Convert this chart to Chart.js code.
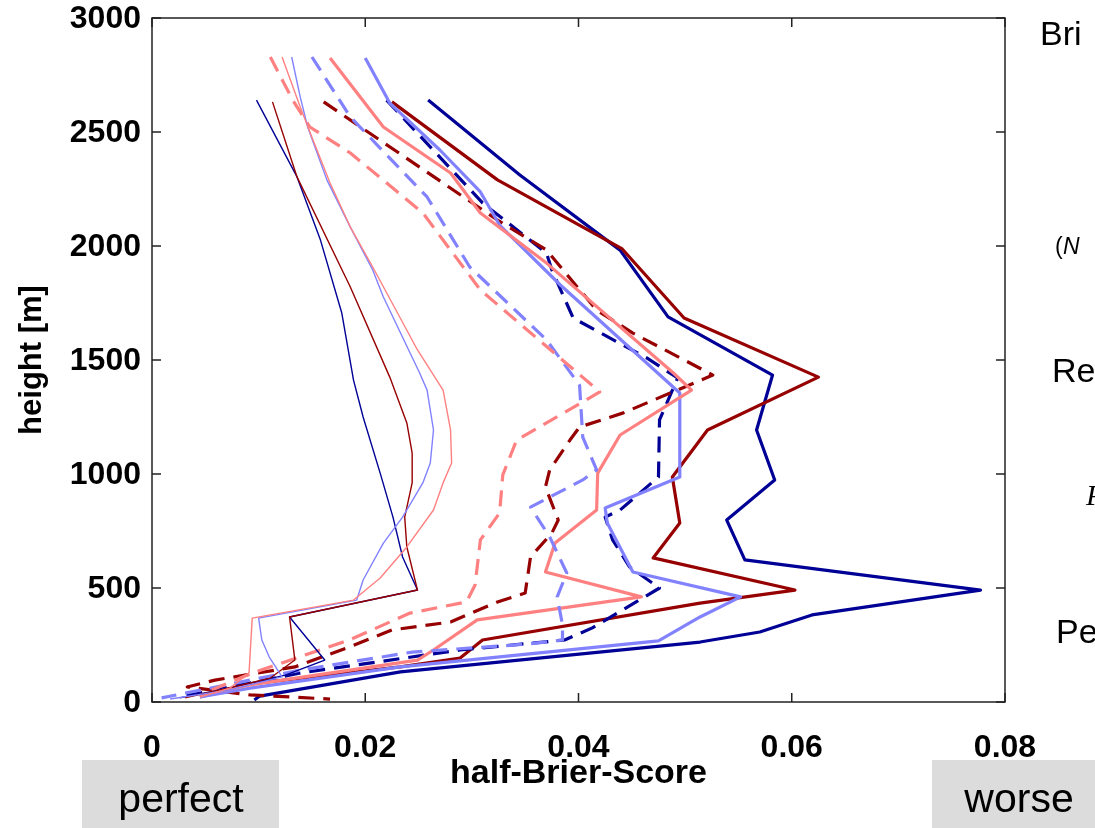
<!DOCTYPE html>
<html>
<head>
<meta charset="utf-8">
<script src="https://cdn.jsdelivr.net/npm/chart.js@4/dist/chart.umd.min.js"></script>
<style>
  body { margin: 0; background: #fff; }
  canvas { display: block; }
</style>
</head>
<body>
<canvas id="brier" width="1095" height="828"></canvas>
<script>
// tick labels
const xTicks = [0, 0.02, 0.04, 0.06, 0.08];
const xTickLabels = ['0', '0.02', '0.04', '0.06', '0.08'];
const yTicks = [0, 500, 1000, 1500, 2000, 2500, 3000];
const yTickLabels = ['0', '500', '1000', '1500', '2000', '2500', '3000'];

// dark blue, thick solid
const dbSolidScore = [0.0259, 0.0345, 0.0439, 0.0484, 0.0582, 0.0567, 0.0584, 0.0539, 0.0556, 0.0777, 0.0619, 0.0570, 0.0514, 0.0233, 0.0101, 0.0096];
const dbSolidHeight = [2640, 2311, 1982, 1689, 1434, 1193, 974, 798, 623, 491, 382, 307, 263, 132, 26, 9];
// dark red, thick solid
const drSolidScore = [0.0225, 0.0324, 0.0441, 0.0499, 0.0625, 0.0521, 0.0488, 0.0495, 0.0470, 0.0603, 0.0514, 0.0310, 0.0289, 0.0233, 0.0092, 0.0045];
const drSolidHeight = [2632, 2290, 1987, 1684, 1425, 1193, 987, 785, 632, 491, 434, 272, 193, 154, 79, 22];
// dark blue, dashed
const dbDashScore = [0.0220, 0.0310, 0.0370, 0.0375, 0.0395, 0.0464, 0.0493, 0.0476, 0.0475, 0.0439, 0.0425, 0.0432, 0.0448, 0.0476, 0.0413, 0.0387, 0.0289, 0.0139, 0.0026];
const dbDashHeight = [2640, 2189, 1969, 1895, 1684, 1509, 1421, 1237, 987, 842, 811, 711, 592, 500, 325, 272, 228, 127, 22];
// dark red, dashed
const drDashScore = [0.0161, 0.0324, 0.0370, 0.0417, 0.0451, 0.0526, 0.0486, 0.0442, 0.0401, 0.0392, 0.0373, 0.0369, 0.0381, 0.0375, 0.0355, 0.0350, 0.0324, 0.0280, 0.0225, 0.0185, 0.0134, 0.0059, 0.0033, 0.0092, 0.0167];
const drDashHeight = [2632, 2114, 1982, 1719, 1618, 1434, 1355, 1268, 1206, 1149, 1018, 943, 798, 741, 636, 478, 439, 351, 316, 241, 154, 96, 66, 31, 13];
// light blue, thick solid
const lbSolidScore = [0.0200, 0.0223, 0.0270, 0.0308, 0.0326, 0.0383, 0.0495, 0.0495, 0.0425, 0.0427, 0.0451, 0.0552, 0.0514, 0.0475, 0.0233, 0.0092, 0.0045];
const lbSolidHeight = [2825, 2627, 2421, 2237, 2092, 1829, 1355, 987, 851, 785, 570, 461, 373, 268, 154, 61, 22];
// light red, thick solid
const lrSolidScore = [0.0167, 0.0217, 0.0280, 0.0308, 0.0370, 0.0489, 0.0506, 0.0439, 0.0418, 0.0417, 0.0378, 0.0369, 0.0459, 0.0305, 0.0264, 0.0249, 0.0092, 0.0045];
const lrSolidHeight = [2825, 2522, 2320, 2145, 1925, 1443, 1368, 1171, 1004, 842, 697, 570, 461, 360, 228, 184, 75, 31];
// light blue, dashed
const lbDashScore = [0.0150, 0.0186, 0.0258, 0.0298, 0.0370, 0.0401, 0.0404, 0.0417, 0.0404, 0.0355, 0.0373, 0.0389, 0.0380, 0.0385, 0.0385, 0.0352, 0.0244, 0.0139, 0.0009];
const lbDashHeight = [2829, 2566, 2215, 1908, 1588, 1390, 1162, 1018, 974, 855, 724, 566, 461, 338, 272, 254, 219, 140, 18];
// light red, dashed
const lrDashScore = [0.0111, 0.0132, 0.0148, 0.0186, 0.0254, 0.0308, 0.0420, 0.0370, 0.0342, 0.0329, 0.0326, 0.0308, 0.0303, 0.0295, 0.0242, 0.0185, 0.0094, 0.0056];
const lrDashHeight = [2829, 2640, 2522, 2408, 2145, 1807, 1360, 1224, 1149, 996, 829, 711, 513, 439, 390, 272, 127, 53];
// dark blue, thin
const dbThinScore = [0.0098, 0.0136, 0.0158, 0.0178, 0.0189, 0.0198, 0.0214, 0.0226, 0.0235, 0.0249, 0.0129, 0.0162, 0.0125, 0.0064, 0.0026];
const dbThinHeight = [2640, 2303, 2026, 1706, 1412, 1250, 1004, 811, 636, 491, 373, 184, 118, 53, 18];
// dark red, thin
const drThinScore = [0.0113, 0.0136, 0.0186, 0.0223, 0.0239, 0.0244, 0.0244, 0.0237, 0.0239, 0.0249, 0.0129, 0.0134, 0.0111, 0.0064, 0.0031];
const drThinHeight = [2632, 2303, 1820, 1425, 1224, 1092, 961, 811, 680, 491, 373, 184, 105, 53, 18];
// light blue, thin
const lbThinScore = [0.0131, 0.0139, 0.0146, 0.0164, 0.0186, 0.0207, 0.0217, 0.0251, 0.0258, 0.0264, 0.0261, 0.0254, 0.0235, 0.0217, 0.0198, 0.0192, 0.0100, 0.0103, 0.0110, 0.0122, 0.0073, 0.0017];
const lbThinHeight = [2829, 2654, 2522, 2290, 2083, 1895, 1776, 1443, 1368, 1193, 1048, 961, 811, 697, 535, 447, 368, 272, 197, 110, 53, 13];
// light red, thin
const lrThinScore = [0.0122, 0.0139, 0.0151, 0.0167, 0.0186, 0.0207, 0.0249, 0.0273, 0.0280, 0.0281, 0.0273, 0.0264, 0.0239, 0.0214, 0.0189, 0.0094, 0.0091, 0.0073, 0.0045];
const lrThinHeight = [2829, 2610, 2465, 2276, 2083, 1908, 1544, 1368, 1193, 1048, 961, 842, 680, 544, 447, 368, 127, 61, 22];

const DARK_BLUE = 'rgb(0, 0, 150)';
const DARK_RED = 'rgb(150, 0, 0)';
const LIGHT_BLUE = 'rgb(130, 130, 255)';
const LIGHT_RED = 'rgb(255, 128, 128)';

// helper functions
function toPoints(scores, heights) {
    let points = [];
    for (let i = 0; i < scores.length; i++) {
        points.push({ x: scores[i], y: heights[i] });
    }
    return points;
}

function profile(scores, heights, color, style) {
    return {
        data: toPoints(scores, heights),
        showLine: true,
        borderColor: color,
        backgroundColor: color,
        borderWidth: style === 'thin' ? 1.4 : 3.2,
        borderDash: style === 'dash' ? [16, 9] : [],
        pointRadius: 0,
        tension: 0,
        borderJoinStyle: 'round',
    };
}

const frame = {
    id: 'frame',
    afterDatasetsDraw(chart) {
        const { ctx, chartArea: a, scales } = chart;
        ctx.save();
        ctx.strokeStyle = '#222';
        ctx.lineWidth = 1.5;
        ctx.strokeRect(a.left, a.top, a.right - a.left, a.bottom - a.top);

        // inward ticks on all four sides
        ctx.beginPath();
        for (const v of xTicks) {
            const px = scales.x.getPixelForValue(v);
            ctx.moveTo(px, a.bottom); ctx.lineTo(px, a.bottom - 9);
            ctx.moveTo(px, a.top); ctx.lineTo(px, a.top + 9);
        }
        for (const v of yTicks) {
            const py = scales.y.getPixelForValue(v);
            ctx.moveTo(a.left, py); ctx.lineTo(a.left + 9, py);
            ctx.moveTo(a.right, py); ctx.lineTo(a.right - 9, py);
        }
        ctx.stroke();

        ctx.fillStyle = '#000';
        ctx.font = 'bold 32px "Liberation Sans", Arial, sans-serif';
        ctx.textAlign = 'center';
        ctx.textBaseline = 'alphabetic';
        xTicks.forEach((v, i) => {
            ctx.fillText(xTickLabels[i], scales.x.getPixelForValue(v), a.bottom + 55);
        });
        ctx.textAlign = 'right';
        ctx.textBaseline = 'middle';
        yTicks.forEach((v, i) => {
            ctx.fillText(yTickLabels[i], a.left - 11, scales.y.getPixelForValue(v) + 1);
        });

        // axis titles
        ctx.textAlign = 'center';
        ctx.textBaseline = 'alphabetic';
        ctx.font = 'bold 34px "Liberation Sans", Arial, sans-serif';
        ctx.fillText('half-Brier-Score', (a.left + a.right) / 2, a.bottom + 81);
        ctx.font = 'bold 31px "Liberation Sans", Arial, sans-serif';
        ctx.save();
        ctx.translate(41, (a.top + a.bottom) / 2);
        ctx.rotate(-Math.PI / 2);
        ctx.fillText('height [m]', 0, 0);
        ctx.restore();

        // cut-off text on the right
        ctx.textAlign = 'left';
        ctx.font = '34px "Liberation Sans", Arial, sans-serif';
        ctx.fillText('Bri', 1040, 45);
        ctx.fillText('Re', 1052, 382);
        ctx.fillText('Pe', 1056, 643);
        ctx.font = '23px "Liberation Sans", Arial, sans-serif';
        ctx.fillText('(', 1055, 254);
        ctx.font = 'italic 23px "Liberation Sans", Arial, sans-serif';
        ctx.fillText('N', 1063, 254);
        ctx.font = 'italic 30px "Liberation Serif", serif';
        ctx.fillText('P', 1086, 505);

        // grey boxes under the axis
        ctx.fillStyle = '#dcdcdc';
        ctx.fillRect(82, 760, 197, 68);
        ctx.fillRect(932, 760, 163, 68);
        ctx.fillStyle = '#000';
        ctx.font = '41px "Liberation Sans", Arial, sans-serif';
        ctx.textAlign = 'center';
        ctx.fillText('perfect', 181, 812);
        ctx.fillText('worse', 1019, 812);
        ctx.restore();
    }
};

const ctx = document.getElementById('brier');
new Chart(ctx, {
    type: 'scatter',
    data: {
        datasets: [
            profile(lrThinScore, lrThinHeight, LIGHT_RED, 'thin'),
            profile(lbThinScore, lbThinHeight, LIGHT_BLUE, 'thin'),
            profile(drThinScore, drThinHeight, DARK_RED, 'thin'),
            profile(dbThinScore, dbThinHeight, DARK_BLUE, 'thin'),
            profile(lrDashScore, lrDashHeight, LIGHT_RED, 'dash'),
            profile(lbDashScore, lbDashHeight, LIGHT_BLUE, 'dash'),
            profile(lrSolidScore, lrSolidHeight, LIGHT_RED, 'solid'),
            profile(lbSolidScore, lbSolidHeight, LIGHT_BLUE, 'solid'),
            profile(drDashScore, drDashHeight, DARK_RED, 'dash'),
            profile(dbDashScore, dbDashHeight, DARK_BLUE, 'dash'),
            profile(drSolidScore, drSolidHeight, DARK_RED, 'solid'),
            profile(dbSolidScore, dbSolidHeight, DARK_BLUE, 'solid'),
        ]
    },
    options: {
        responsive: false,
        animation: false,
        layout: { padding: { left: 152, right: 90, top: 18, bottom: 126 } },
        scales: {
            x: { type: 'linear', min: 0, max: 0.08, display: false },
            y: { type: 'linear', min: 0, max: 3000, display: false },
        },
        plugins: {
            legend: { display: false },
            tooltip: { enabled: false },
        },
    },
    plugins: [frame],
});
</script>
</body>
</html>
